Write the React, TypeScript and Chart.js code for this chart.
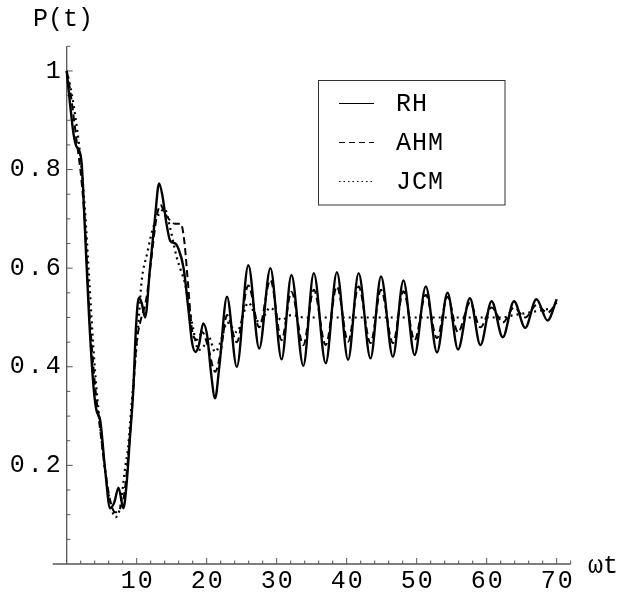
import { useEffect, useRef } from "react";
import { Chart, registerables } from "chart.js";

Chart.register(...registerables);

// ---- data ----
const rhT = [0, 0.5, 1.0, 1.35, 1.75, 2.15, 2.6, 3.2, 3.8, 4.2, 4.8, 5.5, 6.2, 6.8, 7.4, 8.1, 8.6, 9.05, 9.5, 9.9, 10.3, 10.7, 11.2, 11.9, 12.6, 13.2, 13.7, 14.2, 14.8, 15.5, 16.0, 16.7, 17.4, 17.9, 18.4, 18.9, 19.5, 20.1, 20.6, 21.2, 21.8, 22.9, 24.3, 25.95, 27.5, 29.1, 30.7, 32.1, 33.8, 35.3, 37.0, 38.6, 40.2, 41.7, 43.4, 44.9, 46.6, 48.1, 49.7, 51.3, 52.9, 54.4, 55.9, 57.6, 59.1, 60.7, 62.3, 63.9, 65.5, 67.1, 68.7, 70];
const rhP = [1.0, 0.93, 0.87, 0.848, 0.84, 0.81, 0.68, 0.5, 0.365, 0.315, 0.29, 0.19, 0.113, 0.125, 0.155, 0.113, 0.17, 0.26, 0.35, 0.48, 0.54, 0.53, 0.5, 0.6, 0.7, 0.772, 0.745, 0.695, 0.655, 0.65, 0.638, 0.6, 0.515, 0.45, 0.43, 0.445, 0.488, 0.46, 0.39, 0.336, 0.4, 0.542, 0.4, 0.606, 0.437, 0.6, 0.415, 0.586, 0.402, 0.59, 0.407, 0.592, 0.414, 0.59, 0.417, 0.583, 0.42, 0.575, 0.424, 0.563, 0.429, 0.55, 0.435, 0.539, 0.444, 0.533, 0.46, 0.533, 0.479, 0.537, 0.494, 0.537];

const ahmT = [0, 0.5, 1.4, 2.1, 2.6, 3.2, 4.0, 4.8, 5.5, 6.2, 6.9, 7.5, 8.2, 8.8, 9.4, 10.0, 10.5, 11.4, 12.1, 12.8, 13.4, 14.0, 14.7, 15.5, 16.3, 16.8, 17.4, 17.9, 18.6, 19.4, 20.2, 21.2, 22.0, 22.9, 24.3, 25.95, 27.5, 29.1, 30.7, 32.1, 33.8, 35.3, 37.0, 38.6, 40.2, 41.7, 43.4, 44.9, 46.6, 48.1, 49.7, 51.3, 52.9, 54.4, 55.9, 57.6, 59.1, 60.7, 62.3, 63.9, 65.5, 67.1, 68.7, 70];
const ahmP = [1.0, 0.96, 0.86, 0.78, 0.69, 0.52, 0.37, 0.27, 0.19, 0.13, 0.105, 0.11, 0.14, 0.22, 0.33, 0.45, 0.49, 0.54, 0.62, 0.7, 0.728, 0.712, 0.698, 0.69, 0.69, 0.655, 0.556, 0.475, 0.455, 0.47, 0.44, 0.39, 0.43, 0.505, 0.45, 0.565, 0.48, 0.576, 0.454, 0.552, 0.444, 0.556, 0.444, 0.563, 0.451, 0.563, 0.448, 0.556, 0.448, 0.553, 0.454, 0.546, 0.458, 0.542, 0.47, 0.53, 0.48, 0.52, 0.49, 0.52, 0.5, 0.525, 0.51, 0.53];

const jcmT = [0, 0.5, 1.0, 2.0, 2.6, 3.2, 4.0, 5.0, 6.0, 7.0, 7.7, 8.3, 8.8, 9.05, 9.6, 10.2, 10.7, 11.5, 12.3, 13.2, 14.0, 14.8, 15.7, 16.3, 16.9, 17.4, 18.1, 18.8, 19.5, 20.3, 21.2, 22.2, 22.9, 24.3, 25.95, 27.5, 29.1, 30.7, 32.1, 34.0, 38.0, 42.0, 46.0, 50.0, 54.0, 58.0, 62.0, 64.0, 66.0, 68.0, 70];
const jcmP = [1.0, 0.97, 0.93, 0.82, 0.72, 0.58, 0.4, 0.25, 0.14, 0.095, 0.12, 0.19, 0.24, 0.285, 0.38, 0.48, 0.573, 0.63, 0.68, 0.71, 0.72, 0.68, 0.623, 0.596, 0.569, 0.53, 0.475, 0.434, 0.44, 0.46, 0.43, 0.46, 0.49, 0.47, 0.53, 0.49, 0.52, 0.495, 0.505, 0.5, 0.5, 0.5, 0.5, 0.5, 0.5, 0.5, 0.5, 0.505, 0.51, 0.515, 0.52];

const seriesLabels = ["RH", "AHM", "JCM"];
const xTickLabels = [10, 20, 30, 40, 50, 60, 70];
const yTickLabels = [0.2, 0.4, 0.6, 0.8, 1];
const xMinorStep = 2;
const yMinorStep = 0.05;
const xLabel = "ωt";
const yLabel = "P(t)";

const toPoints = (t: number[], p: number[]) => t.map((x, i) => ({ x, y: p[i] }));

const FONT = '"Liberation Mono", "DejaVu Sans Mono", monospace';

const axesPlugin = {
  id: "mathAxes",
  beforeDatasetsDraw(chart: any) {
    const ctx = chart.ctx;
    const xs = chart.scales.x;
    const ys = chart.scales.y;
    const x0 = xs.getPixelForValue(0);
    const y0 = ys.getPixelForValue(0);
    ctx.save();
    ctx.strokeStyle = "#555";
    ctx.lineWidth = 1.3;
    ctx.beginPath();
    ctx.moveTo(xs.getPixelForValue(xs.min), y0);
    ctx.lineTo(xs.getPixelForValue(xs.max), y0);
    ctx.moveTo(x0, y0);
    ctx.lineTo(x0, ys.getPixelForValue(ys.max));
    ctx.stroke();
    // ticks
    ctx.lineWidth = 1;
    ctx.beginPath();
    for (let v = xMinorStep; v <= xs.max; v += xMinorStep) {
      const px = xs.getPixelForValue(v);
      const major = Math.abs(v % 10) < 1e-6;
      ctx.moveTo(px, y0);
      ctx.lineTo(px, y0 - (major ? 6 : 3.5));
    }
    for (let k = 1; k * yMinorStep <= ys.max + 1e-9; k++) {
      const v = k * yMinorStep;
      const py = ys.getPixelForValue(v);
      const major = k % 4 === 0;
      ctx.moveTo(x0, py);
      ctx.lineTo(x0 + (major ? 6 : 3.5), py);
    }
    ctx.stroke();
    // labels
    ctx.fillStyle = "#000";
    ctx.font = `25px ${FONT}`;
    ctx.textBaseline = "middle";
    ctx.textAlign = "center";
    (ctx as any).letterSpacing = "2px";
    xTickLabels.forEach((v) => ctx.fillText(String(v), xs.getPixelForValue(v) + 1, y0 + 17));
    (ctx as any).letterSpacing = "3px";
    ctx.textAlign = "right";
    yTickLabels.forEach((v) => ctx.fillText(String(v), x0 - 3, ys.getPixelForValue(v)));
    (ctx as any).letterSpacing = "0px";
    ctx.textAlign = "left";
    ctx.fillText(xLabel, 588, y0 + 2);
    ctx.textAlign = "center";
    ctx.fillText(yLabel, 63, 19);
    ctx.restore();
  },
  afterDraw(chart: any) {
    const ctx = chart.ctx;
    ctx.save();
    ctx.fillStyle = "#fff";
    ctx.fillRect(318.5, 80.5, 186.5, 124.5);
    ctx.strokeStyle = "#333";
    ctx.lineWidth = 1;
    ctx.strokeRect(318.5, 80.5, 186.5, 124.5);
    const rows = [103.5, 142.5, 181.5];
    chart.data.datasets.forEach((ds: any, i: number) => {
      ctx.beginPath();
      ctx.setLineDash(i === 0 ? [] : i === 1 ? [6, 4] : [1.5, 3]);
      ctx.lineWidth = 1;
      ctx.strokeStyle = "#000";
      ctx.moveTo(339, rows[i]);
      ctx.lineTo(374, rows[i]);
      ctx.stroke();
      ctx.setLineDash([]);
      ctx.fillStyle = "#000";
      ctx.font = `25px ${FONT}`;
      (ctx as any).letterSpacing = "1px";
      ctx.textAlign = "left";
      ctx.textBaseline = "middle";
      ctx.fillText(ds.label, 396, rows[i] + 1);
    });
    ctx.restore();
  },
};

export default function App() {
  const ref = useRef<HTMLCanvasElement | null>(null);
  useEffect(() => {
    if (!ref.current) return;
    const chart = new Chart(ref.current, {
      type: "line",
      data: {
        datasets: [
          { label: seriesLabels[0], data: toPoints(rhT, rhP), borderColor: "#000", borderWidth: 2.4, borderDash: [], pointRadius: 0, cubicInterpolationMode: "monotone", fill: false },
          { label: seriesLabels[1], data: toPoints(ahmT, ahmP), borderColor: "#000", borderWidth: 2, borderDash: [7, 4], pointRadius: 0, cubicInterpolationMode: "monotone", fill: false },
          { label: seriesLabels[2], data: toPoints(jcmT, jcmP), borderColor: "#000", borderWidth: 2.2, borderDash: [2, 4], pointRadius: 0, cubicInterpolationMode: "monotone", fill: false },
        ],
      },
      options: {
        animation: false,
        responsive: false,
        maintainAspectRatio: false,
        layout: { padding: { left: 52.7, right: 64.3, top: 46.3, bottom: 29 } },
        scales: {
          x: { type: "linear", min: -2, max: 72, display: false },
          y: { type: "linear", min: 0, max: 1.05, display: false },
        },
        plugins: { legend: { display: false }, tooltip: { enabled: false } },
      },
      plugins: [axesPlugin],
    } as any);
    return () => chart.destroy();
  }, []);
  return (
    <div style={{ position: "absolute", left: 0, top: 0, width: 635, height: 593, background: "#fff" }}>
      <canvas ref={ref} width={635} height={593} style={{ display: "block" }} />
    </div>
  );
}
